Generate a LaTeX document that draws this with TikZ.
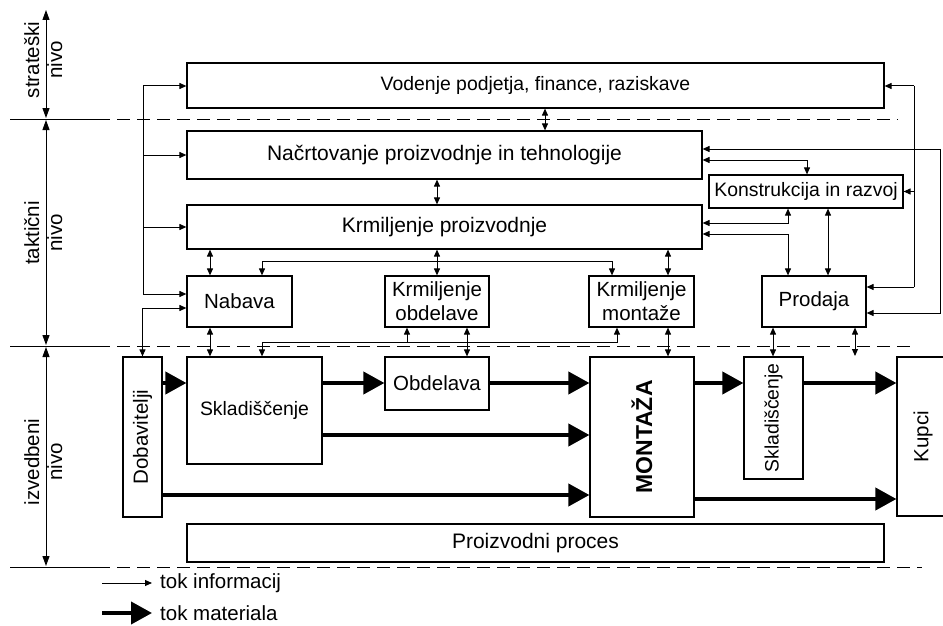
\documentclass[tikz,border=0pt]{standalone}
\usepackage{fontspec}
\setmainfont{Liberation Sans}
\usepackage{graphicx}
\usetikzlibrary{arrows.meta}
\begin{document}
\begin{tikzpicture}[x=1pt,y=-1pt,
  >={Triangle[length=7pt,width=6pt]},
  box/.style={draw=black,line width=1.2pt,inner sep=0pt,align=center,
              font=\fontsize{20.5}{24}\selectfont},
  small/.style={font=\fontsize{19.4}{23}\selectfont},
  large/.style={font=\fontsize{21}{24}\selectfont},
  info/.style={line width=1pt},
  mat/.style={line width=4pt,-{Triangle[length=21pt,width=22pt]}},
  axis/.style={line width=1pt,{Triangle[length=10pt,width=7pt]}-{Triangle[length=10pt,width=7pt]}},
  level/.style={line width=1pt},
  levdash/.style={line width=1pt,dash pattern=on 13pt off 7pt,dash phase=13pt},
  lvltxt/.style={inner sep=0pt,font=\fontsize{20.5}{23}\selectfont},
  legtxt/.style={anchor=west,inner sep=0pt,font=\fontsize{20.5}{24}\selectfont},
]
\useasboundingbox (0,0) rectangle (943,626);

% ---- level separators ----
\draw[level] (10,119) -- (110,119);
\draw[levdash] (110,119) -- (898,119);
\draw[level] (10,346) -- (110,346);
\draw[levdash] (110,346) -- (913,346);
\draw[level] (10,567) -- (110,567);
\draw[levdash] (110,567) -- (922,567);

% ---- level axis ----
\coordinate (a0) at (46,10);
\coordinate (a1) at (46,118);
\coordinate (a2) at (46,120);
\coordinate (a3) at (46,345);
\coordinate (a4) at (46,347);
\coordinate (a5) at (46,566);
\draw[axis] (a0) -- (a1);
\draw[axis] (a2) -- (a3);
\draw[axis] (a4) -- (a5);
\node[lvltxt] (strat) at (46,60) {\rotatebox{90}{\begin{tabular}{@{}c@{}}strateški\\nivo\end{tabular}}};
\node[lvltxt] (takt) at (46,233) {\rotatebox{90}{\begin{tabular}{@{}c@{}}taktični\\nivo\end{tabular}}};
\node[lvltxt] (izv) at (46,462) {\rotatebox{90}{\begin{tabular}{@{}c@{}}izvedbeni\\nivo\end{tabular}}};

% ---- boxes ----
\node[box,small,minimum width=697pt,minimum height=45pt] (vod) at (535.5,85.5) {Vodenje podjetja, finance, raziskave};
\node[box,large,minimum width=515pt,minimum height=48pt] (nac) at (444.5,155) {Načrtovanje proizvodnje in tehnologije};
\node[box,large,minimum width=515pt,minimum height=44pt] (krm) at (444.5,227) {Krmiljenje proizvodnje};
\node[box,small,minimum width=194pt,minimum height=33pt] (kon) at (806,191.5) {Konstrukcija in razvoj};
\node[box,minimum width=105pt,minimum height=51pt] (nab) at (239.5,301.5) {Nabava};
\node[box,minimum width=104pt,minimum height=51pt] (kob) at (437,301.5) {Krmiljenje\\obdelave};
\node[box,minimum width=105pt,minimum height=51pt] (kmo) at (641.5,301.5) {Krmiljenje\\montaže};
\node[box,minimum width=104pt,minimum height=51pt] (pro) at (814,301.5) {Prodaja};
\node[box,minimum width=39pt,minimum height=160pt] (dob) at (142.5,437) {\rotatebox{90}{Dobavitelji}};
\node[box,small,minimum width=135pt,minimum height=107pt] (skl) at (254.5,410.5) {Skladiščenje};
\node[box,minimum width=104pt,minimum height=53pt] (obd) at (437,383.5) {Obdelava};
\node[box,minimum width=104pt,minimum height=160pt,font=\fontsize{23}{26}\selectfont\bfseries] (mon) at (642,437) {\rotatebox{90}{MONTAŽA}};
\node[box,small,minimum width=59pt,minimum height=122pt] (skr) at (773.5,418) {\rotatebox{90}{Skladiščenje}};
\node[box,minimum width=52pt,minimum height=159pt] (kup) at (923,436.5) {\rotatebox{90}{Kupci}};
\node[box,large,minimum width=697pt,minimum height=38pt] (pp) at (535.5,543) {Proizvodni proces};

% ---- helper positions ----
\coordinate (vn) at (545,0);
\coordinate (nk) at (437,0);
\coordinate (nabx) at (210,0);
\coordinate (kobx) at (467,0);
\coordinate (kmox) at (668,0);
\coordinate (busL) at (262,0);
\coordinate (busR) at (612,0);
\coordinate (lowR) at (617,0);
\coordinate (lowM) at (407,0);
\coordinate (konx) at (807,0);
\coordinate (kpx) at (788,0);
\coordinate (kdx) at (828,0);
\coordinate (skx) at (773,0);
\coordinate (pfree) at (855,356);
\coordinate (y149) at (0,149);
\coordinate (y160) at (0,160);
\coordinate (y223) at (0,223);
\coordinate (y234) at (0,234);
\coordinate (y261) at (0,261);
\coordinate (y308) at (0,308);
\coordinate (y342) at (0,342);
\coordinate (y383) at (0,383);
\coordinate (y435) at (0,435);
\coordinate (y495) at (0,495);
\coordinate (y499) at (0,499);

% ---- information flow: vertical links ----
\draw[info,<->] (vod.south -| vn) -- (nac.north -| vn);
\draw[info,<->] (nac.south -| nk) -- (krm.north -| nk);
\draw[info,<->] (krm.south -| nabx) -- (nab.north -| nabx);
\draw[info,<->] (krm.south -| nk) -- (kob.north -| nk);
\draw[info,<->] (krm.south -| kmox) -- (kmo.north -| kmox);
\draw[info,<->] (nab.north -| busL) |- (busR |- y261) -- (kmo.north -| busR);
\draw[info,<->] (nab.south -| nabx) -- (skl.north -| nabx);
\draw[info,<->] (kob.south -| kobx) -- (obd.north -| kobx);
\draw[info,<->] (kmo.south -| kmox) -- (mon.north -| kmox);
\draw[info,<->] (skl.north -| busL) |- (lowR |- y342) -- (kmo.south -| lowR);
\draw[info,->] (lowM |- y342) -- (kob.south -| lowM);

% ---- information flow: left bus ----
\coordinate (lt) at (143,86);
\coordinate (lb) at (143,294);
\draw[info] (lt) -- (lb);
\draw[info,->] (lt) -- (vod.west |- lt);
\draw[info,->] (lt |- nac.west) -- (nac.west);
\draw[info,->] (lt |- krm.west) -- (krm.west);
\draw[info,->] (lb) -- (nab.west |- lb);
\draw[info,<->] (dob.north) |- (nab.west |- y308);

% ---- information flow: right side ----
\coordinate (r1) at (940,313);
\draw[info,<->] (nac.east |- y149) -| (r1) -- (pro.east |- r1);
\draw[info,<->] (nac.east |- y160) -| (kon.north -| konx);
\coordinate (r2t) at (914,86);
\coordinate (r2b) at (914,287);
\draw[info] (r2t) -- (r2b);
\draw[info,->] (r2t) -- (vod.east |- r2t);
\draw[info,->] (r2t |- kon.east) -- (kon.east);
\draw[info,->] (r2b) -- (pro.east |- r2b);
\draw[info,<->] (krm.east |- y223) -| (kon.south -| kpx);
\draw[info,<->] (krm.east |- y234) -| (pro.north -| kpx);
\draw[info,<->] (kon.south -| kdx) -- (pro.north -| kdx);
\draw[info,<->] (pro.south -| skx) -- (skr.north -| skx);
\draw[info,<->] (pro.south -| pfree) -- (pfree);

% ---- material flow ----
\draw[mat] (dob.east |- y383) -- (skl.west |- y383);
\draw[mat] (skl.east |- y383) -- (obd.west |- y383);
\draw[mat] (obd.east |- y383) -- (mon.west |- y383);
\draw[mat] (mon.east |- y383) -- (skr.west |- y383);
\draw[mat] (skr.east |- y383) -- (kup.west |- y383);
\draw[mat] (skl.east |- y435) -- (mon.west |- y435);
\draw[mat] (dob.east |- y495) -- (mon.west |- y495);
\draw[mat] (mon.east |- y499) -- (kup.west |- y499);

% ---- legend ----
\node[legtxt] (legi) at (160,583) {tok informacij};
\node[legtxt] (legm) at (160,613) {tok materiala};
\coordinate (li) at (102,583);
\coordinate (lm) at (102,613);
\draw[info,->] (li) -- ([xshift=-8pt]legi.west);
\draw[mat] (lm) -- ([xshift=-8pt]legm.west);
\end{tikzpicture}
\end{document}
